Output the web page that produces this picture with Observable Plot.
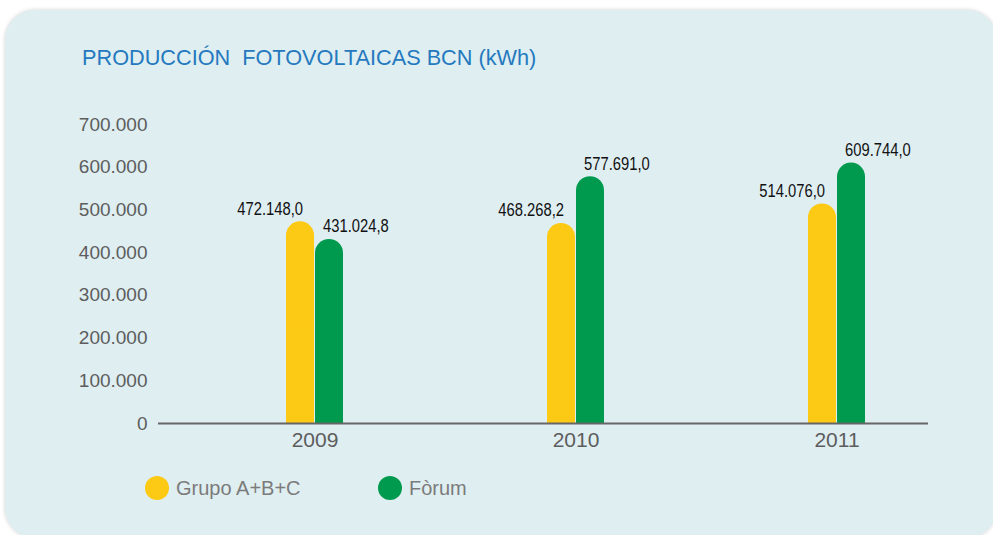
<!DOCTYPE html>
<html>
<head>
<meta charset="utf-8">
<script src="https://cdn.jsdelivr.net/npm/d3@7"></script>
<script src="https://cdn.jsdelivr.net/npm/@observablehq/plot@0.6"></script>
<style>
  html, body { margin: 0; padding: 0; background: #ffffff; }
  #wrap { position: relative; width: 993px; height: 535px; overflow: hidden; font-family: "Liberation Sans", Arial, sans-serif; }
  #panel { position: absolute; left: 5px; top: 10px; width: 992px; height: 528px; border-radius: 30px; background: #dfeef1; box-shadow: 0 0 4px rgba(0,0,0,0.18); }
  #title { position: absolute; left: 82px; top: 47px; font-size: 21.7px; line-height: 22px; color: #2479bf; white-space: pre; }
  #chart { position: absolute; left: 0; top: 95px; }
  #chart svg { overflow: visible; }
  #chart [aria-label^="x-axis"] text { font-size: 21px; }
  #legend { position: absolute; left: 145px; top: 476px; height: 24px; }
  .item { position: absolute; top: 0; display: flex; align-items: center; height: 24px; white-space: nowrap; }
  .dot { width: 24px; height: 24px; border-radius: 50%; margin-right: 7px; }
  .lab { font-size: 20px; color: #7b7b7b; }
</style>
</head>
<body>
<div id="wrap">
  <div id="panel"></div>
  <div id="title">PRODUCCIÓN  FOTOVOLTAICAS BCN (kWh)</div>
  <div id="chart"></div>
  <div id="legend"></div>
</div>
<script>
const years = ["2009", "2010", "2011"];
const series = ["Grupo A+B+C", "Fòrum"];
const grupoValues = [472148.0, 468268.2, 514076.0];
const forumValues = [431024.8, 577691.0, 609744.0];
const yTicks = [0, 100000, 200000, 300000, 400000, 500000, 600000, 700000];
const colors = ["#fcc914", "#009a4f"];

const loc = d3.formatLocale({decimal: ",", thousands: ".", grouping: [3], currency: ["", "€"]});
const fmtTick = loc.format(",");
const fmtVal = loc.format(",.1f");

const grupo = years.map((year, i) => ({year, series: series[0], value: grupoValues[i]}));
const forum = years.map((year, i) => ({year, series: series[1], value: forumValues[i]}));

const labelFont = "'Liberation Sans', Arial, sans-serif";

const plot = Plot.plot({
  width: 993,
  height: 370,
  marginLeft: 158,
  marginRight: 65,
  marginTop: 29,
  marginBottom: 42,
  style: {background: "transparent", fontSize: "19px", fontFamily: "'Liberation Sans', Arial, sans-serif", color: "#5d5d5d", overflow: "visible"},
  x: {domain: years, range: [184, 967], paddingInner: 0.7816, paddingOuter: 0.3908, tickSize: 0, tickPadding: 9, label: null},
  y: {domain: [0, 700000], ticks: yTicks, tickFormat: fmtTick, tickSize: 0, tickPadding: 11, label: null},
  marks: [
    Plot.barY(grupo, {x: "year", y: "value", fill: colors[0], insetRight: 29, rx: 14}),
    Plot.barY(grupo, {x: "year", y: d => d.value / 2, fill: colors[0], insetRight: 29}),
    Plot.barY(forum, {x: "year", y: "value", fill: colors[1], insetLeft: 29, rx: 14}),
    Plot.barY(forum, {x: "year", y: d => d.value / 2, fill: colors[1], insetLeft: 29}),
    Plot.ruleY([0], {stroke: "#666666", strokeWidth: 2}),
    Plot.text(grupo, {x: "year", y: "value", text: d => fmtVal(d.value), textAnchor: "end", lineAnchor: "bottom", dx: -12, dy: -7, fill: "#111111", fontSize: 18, fontFamily: labelFont, className: "vlabel"}),
    Plot.text(forum, {x: "year", y: "value", text: d => fmtVal(d.value), textAnchor: "start", lineAnchor: "bottom", dx: 8, dy: -7, fill: "#111111", fontSize: 18, fontFamily: labelFont, className: "vlabel"})
  ]
});
document.getElementById("chart").appendChild(plot);

// condense the value labels (narrow typeface look)
d3.select(plot).selectAll("g[aria-label='text'] text").each(function() {
  const w = this.getComputedTextLength();
  if (w > 0) {
    this.setAttribute("textLength", (w * 0.82).toFixed(1));
    this.setAttribute("lengthAdjust", "spacingAndGlyphs");
  }
});

const legend = document.getElementById("legend");
const legendX = [0, 233];
series.forEach((s, i) => {
  const item = document.createElement("div");
  item.className = "item";
  item.style.left = legendX[i] + "px";
  const dot = document.createElement("div");
  dot.className = "dot";
  dot.style.background = colors[i];
  const lab = document.createElement("span");
  lab.className = "lab";
  lab.textContent = s;
  item.appendChild(dot);
  item.appendChild(lab);
  legend.appendChild(item);
});
</script>
</body>
</html>
